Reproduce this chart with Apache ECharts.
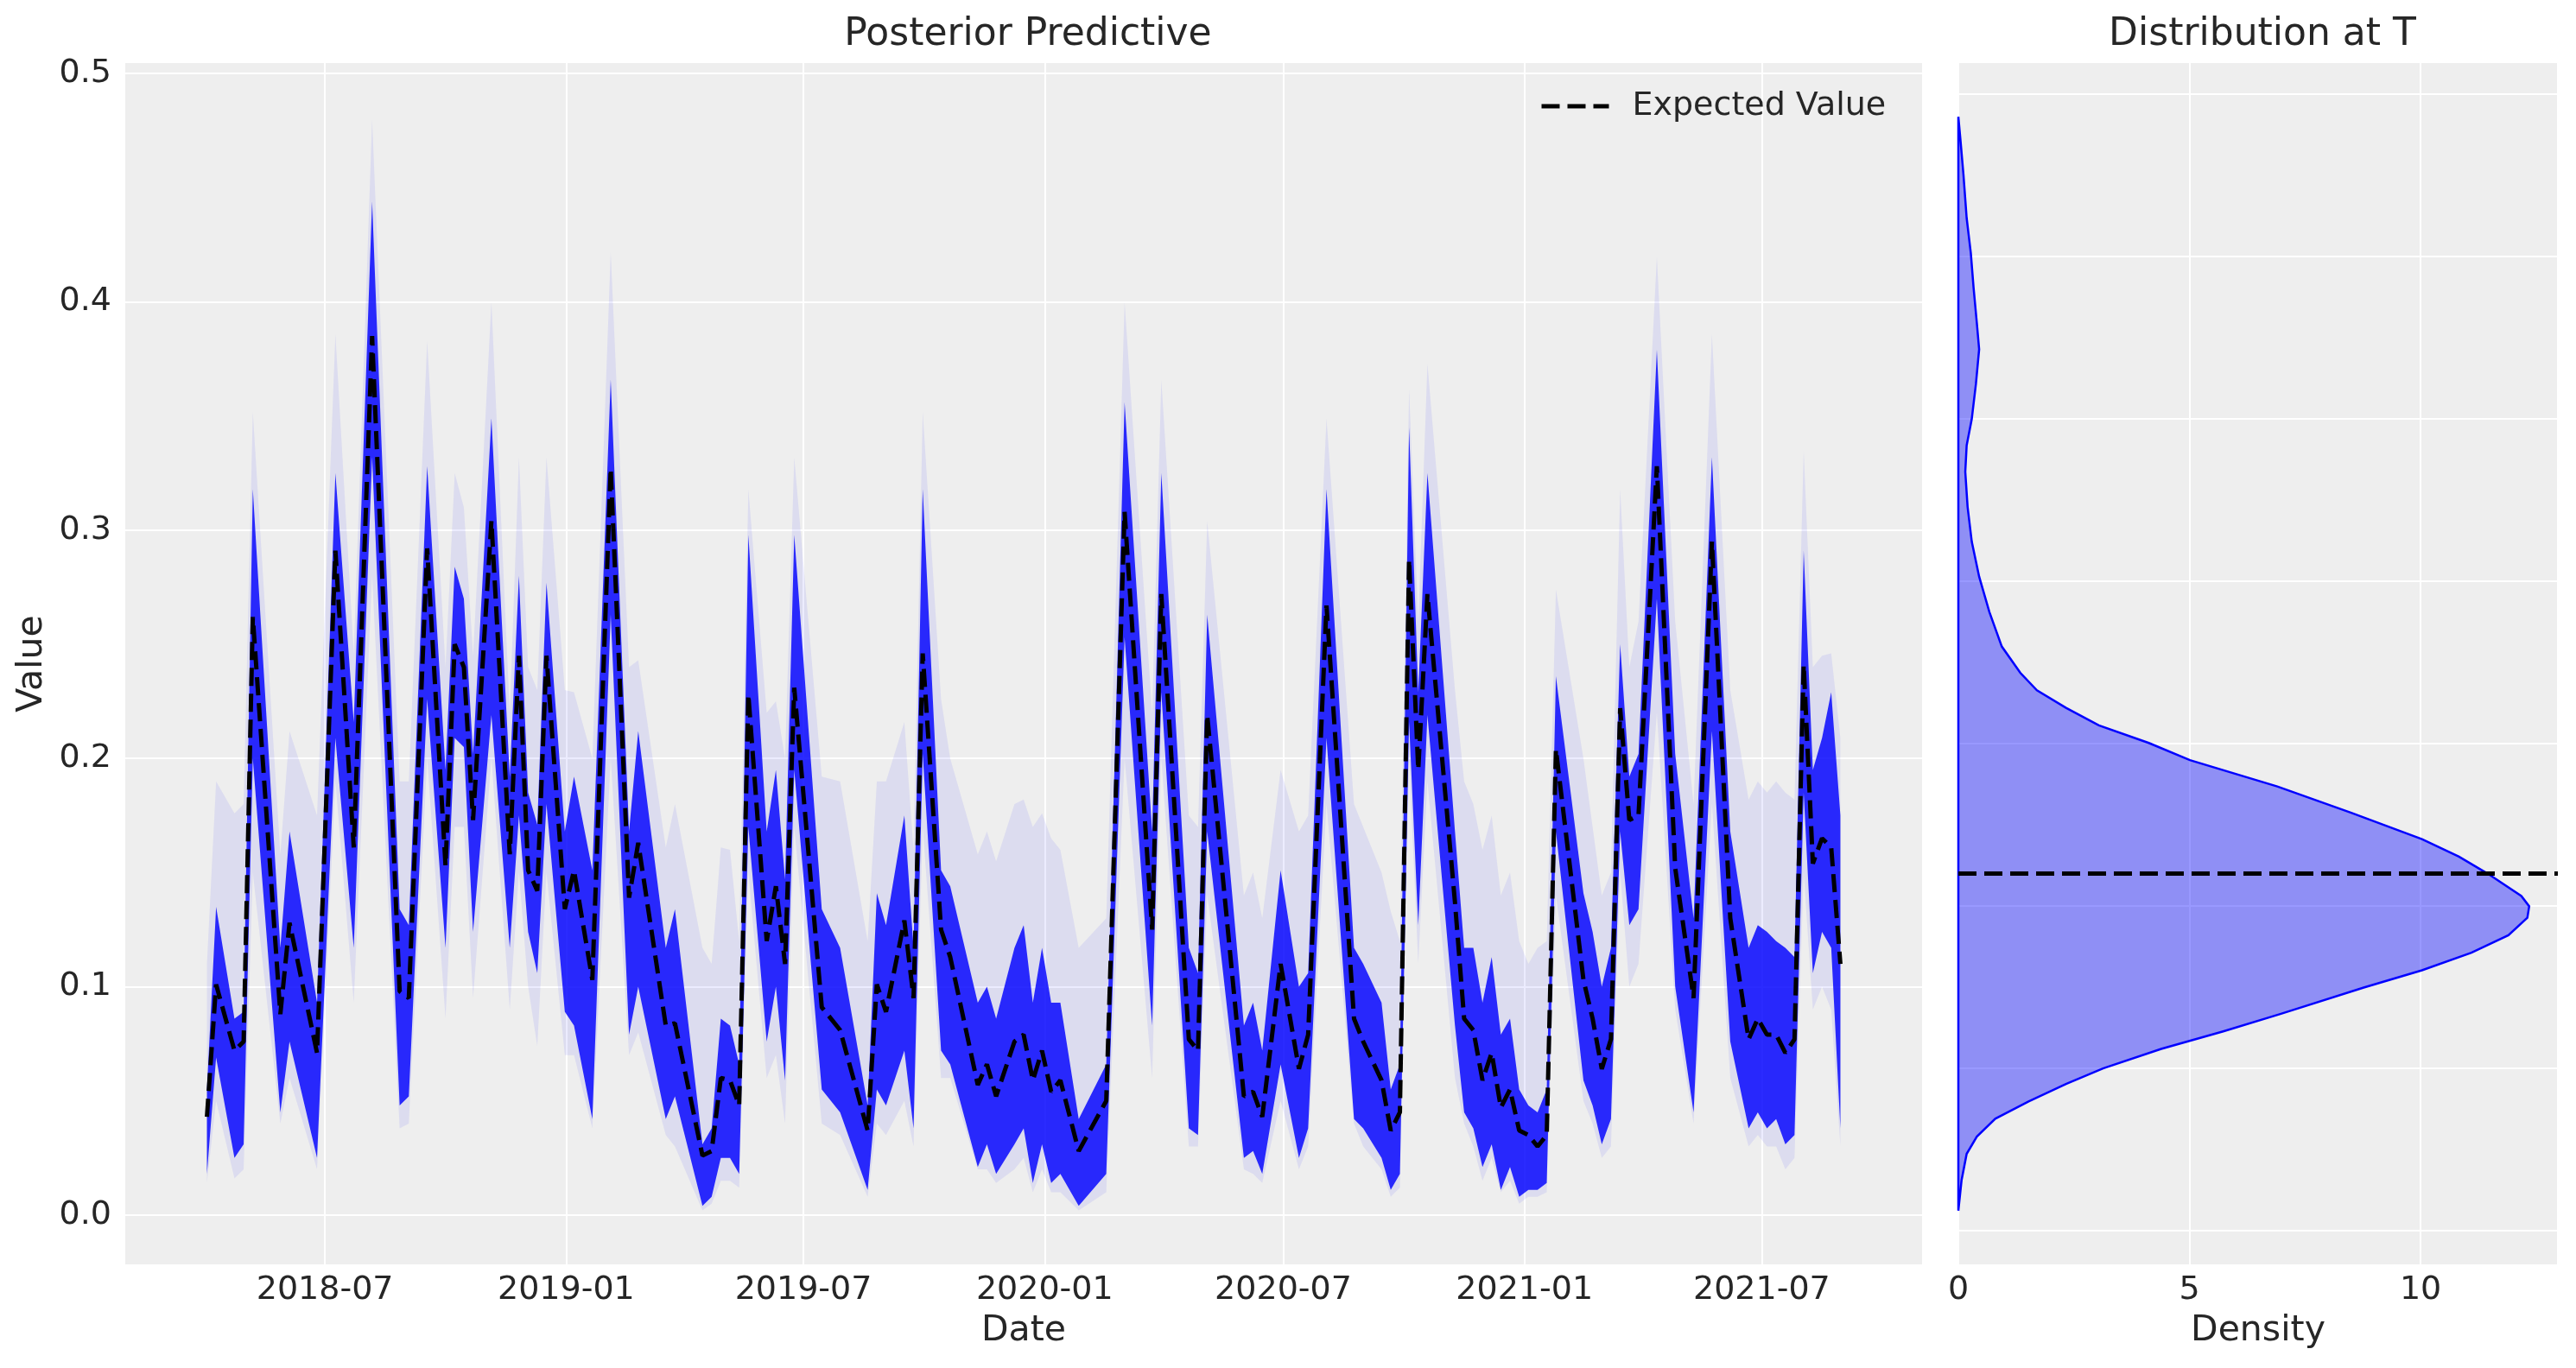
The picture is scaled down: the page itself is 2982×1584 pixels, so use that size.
<!DOCTYPE html>
<html>
<head>
<meta charset="utf-8">
<title>Posterior Predictive</title>
<script src="https://cdn.jsdelivr.net/npm/echarts@6/dist/echarts.min.js"></script>
<style>
    html, body { margin: 0; padding: 0; background: #fff; }
    #main { width: 2982px; height: 1584px; }
</style>
</head>
<body>
<div id="main"></div>
<script type="text/javascript">
    // weekly points where the curves change direction
    var dates = [
        '2018-04-02','2018-04-09','2018-04-23','2018-04-30','2018-05-07','2018-05-28','2018-06-04','2018-06-25','2018-07-09','2018-07-23',
        '2018-08-06','2018-08-27','2018-09-03','2018-09-17','2018-10-01','2018-10-08','2018-10-15','2018-10-22','2018-11-05','2018-11-19',
        '2018-11-26','2018-12-03','2018-12-10','2018-12-17','2018-12-31',
        '2019-01-07','2019-01-21','2019-02-04','2019-02-18','2019-02-25','2019-03-18','2019-03-25','2019-04-15','2019-04-22','2019-04-29',
        '2019-05-06','2019-05-13','2019-05-20','2019-06-03','2019-06-10','2019-06-17','2019-06-24','2019-07-15','2019-07-29','2019-08-19',
        '2019-08-26','2019-09-02','2019-09-16','2019-09-23','2019-09-30','2019-10-14','2019-10-21','2019-11-11','2019-11-18','2019-11-25',
        '2019-12-09','2019-12-16','2019-12-23','2019-12-30',
        '2020-01-06','2020-01-13','2020-01-27','2020-02-17','2020-03-02','2020-03-23','2020-03-30','2020-04-20','2020-04-27','2020-05-04',
        '2020-06-01','2020-06-08','2020-06-15','2020-06-29','2020-07-13','2020-07-20','2020-08-03','2020-08-24','2020-08-31','2020-09-14',
        '2020-09-21','2020-09-28','2020-10-05','2020-10-12','2020-10-19','2020-11-09','2020-11-16','2020-11-23','2020-11-30','2020-12-07',
        '2020-12-14','2020-12-21','2020-12-28',
        '2021-01-04','2021-01-11','2021-01-18','2021-01-25','2021-02-15','2021-02-22','2021-03-01','2021-03-08','2021-03-15','2021-03-22',
        '2021-03-29','2021-04-12','2021-04-26','2021-05-10','2021-05-24','2021-06-07','2021-06-21','2021-06-28','2021-07-05','2021-07-12',
        '2021-07-19','2021-07-26','2021-08-02','2021-08-09','2021-08-16','2021-08-23','2021-08-30'
    ];
    var expected = [
        .043,.101,.072,.076,.262,.088,.128,.071,.291,.161,.385,.098,.095,.292,.153,.25,.24,.173,.304,.158,.245,.151,.142,.245,.134,
        .151,.103,.327,.139,.163,.083,.084,.026,.028,.06,.059,.048,.228,.12,.144,.11,.231,.091,.081,.037,.101,.089,.129,.095,.246,.125,.113,.057,.066,.052,.076,.079,.059,.072,
        .054,.059,.028,.05,.308,.125,.272,.077,.072,.219,.052,.054,.043,.11,.064,.079,.267,.086,.076,.059,.037,.045,.287,.195,.272,.137,.086,.081,.059,.071,.047,.055,.037,
        .035,.03,.035,.204,.103,.086,.064,.077,.222,.173,.175,.328,.152,.095,.295,.13,.077,.086,.079,.079,.071,.077,.241,.154,.165,.161,.11
    ];
    // dense part of the posterior samples
    var bandLow = [
        .018,.069,.025,.031,.2,.045,.076,.025,.209,.117,.332,.048,.052,.226,.117,.209,.205,.124,.219,.117,.175,.124,.106,.18,.089,
        .083,.042,.263,.079,.1,.042,.052,.004,.008,.025,.025,.018,.17,.076,.1,.059,.195,.055,.045,.011,.055,.048,.072,.038,.202,.072,.066,.021,.031,.018,.031,.038,.014,.031,
        .014,.018,.004,.018,.253,.083,.229,.038,.035,.168,.025,.028,.018,.066,.025,.038,.209,.042,.038,.025,.011,.018,.216,.127,.219,.083,.045,.038,.021,.031,.011,.021,.008,
        .011,.011,.014,.168,.059,.048,.031,.042,.168,.127,.134,.27,.1,.045,.212,.076,.038,.045,.038,.042,.031,.035,.185,.106,.124,.117,.038
    ];
    var bandHigh = [
        .055,.135,.086,.089,.318,.117,.168,.093,.325,.216,.444,.134,.127,.328,.195,.284,.27,.202,.349,.192,.28,.185,.171,.277,.168,
        .192,.151,.366,.168,.212,.117,.134,.031,.038,.086,.083,.066,.298,.168,.195,.147,.298,.134,.117,.048,.141,.127,.175,.117,.318,.151,.144,.093,.1,.086,.117,.127,.093,.117,
        .093,.093,.042,.066,.356,.168,.325,.117,.106,.263,.083,.093,.072,.151,.1,.106,.318,.117,.11,.093,.055,.066,.345,.229,.325,.168,.117,.117,.093,.113,.079,.086,.055,
        .048,.045,.055,.236,.141,.124,.1,.117,.25,.192,.202,.379,.202,.13,.332,.168,.117,.127,.124,.12,.117,.113,.291,.195,.209,.229,.175
    ];
    // faint outer spread of the samples
    var faintLow = [
        .014,.05,.016,.02,.15,.04,.06,.02,.19,.093,.28,.038,.04,.2,.086,.17,.17,.095,.2,.09,.15,.1,.074,.15,.07,
        .07,.038,.2,.07,.08,.035,.03,.002,.005,.015,.015,.012,.15,.06,.07,.04,.17,.04,.035,.008,.04,.035,.05,.03,.17,.06,.06,.02,.02,.014,.02,.025,.01,.02,
        .01,.01,.002,.01,.2,.06,.2,.03,.03,.14,.02,.018,.014,.05,.02,.03,.18,.04,.03,.02,.008,.012,.2,.11,.19,.06,.04,.03,.015,.025,.01,.015,.005,
        .008,.008,.01,.14,.05,.04,.025,.03,.15,.1,.11,.22,.09,.04,.18,.06,.03,.035,.03,.03,.02,.025,.15,.09,.1,.09,.03
    ];
    var faintHigh = [
        .11,.19,.176,.18,.352,.158,.212,.175,.386,.246,.48,.19,.19,.383,.24,.325,.31,.245,.40,.22,.332,.24,.23,.332,.23,
        .229,.2,.422,.24,.243,.161,.18,.117,.11,.161,.16,.12,.318,.22,.225,.2,.332,.192,.19,.12,.19,.19,.216,.16,.352,.226,.2,.158,.168,.155,.18,.182,.17,.176,
        .165,.16,.117,.13,.40,.22,.366,.175,.17,.304,.14,.15,.13,.195,.168,.175,.349,.18,.17,.15,.133,.12,.362,.26,.373,.23,.19,.18,.16,.175,.14,.15,.12,
        .11,.117,.12,.274,.2,.17,.14,.15,.318,.24,.26,.42,.26,.18,.386,.23,.182,.19,.185,.19,.185,.182,.335,.24,.245,.246,.209
    ];
    var dateTicks = ['2018-07-01','2019-01-01','2019-07-01','2020-01-01','2020-07-01','2021-01-01','2021-07-01'];

    // distribution at the last time point (value -> density)
    var densityValue = [0.0062,0.0156,0.0237,0.029,0.0345,0.0398,0.0452,0.05,0.056,0.0614,0.0668,0.0749,0.0802,0.0856,0.091,0.0964,
        0.0999,0.1031,0.1099,0.1152,0.1206,0.1287,0.1368,0.1449,0.1502,0.1556,0.161,0.1664,0.1718,0.1799,0.1906,0.2014,0.2122,
        0.2229,0.2337,0.2418,0.2499,0.2607,0.2714,0.2795,0.2903,0.301,0.3118,0.3253,0.336,0.343];
    var densityHeight = [0,0.07,0.18,0.4,0.8,1.52,2.33,3.13,4.39,5.73,6.98,8.77,10.03,11.1,11.9,12.31,
        12.35,12.18,11.46,10.83,10.03,8.5,6.9,5.01,4.12,3.04,2.33,1.7,1.34,0.94,0.67,0.45,0.29,
        0.2,0.15,0.18,0.29,0.38,0.45,0.4,0.33,0.27,0.18,0.11,0.045,0];
    var valueAtT = expected[expected.length - 1];

    function toTime(s) {
        var p = s.split('-');
        return new Date(+p[0], +p[1] - 1, +p[2]).getTime();
    }
    var t0 = toTime(dates[0]), t1 = toTime(dates[dates.length - 1]);
    var pad = (t1 - t0) * 0.05;

    function pairs(arr) {
        return dates.map(function (d, i) { return [toTime(d), arr[i]]; });
    }
    function diff(hi, lo) {
        return dates.map(function (d, i) { return [toTime(d), +(hi[i] - lo[i]).toFixed(4)]; });
    }

    var FONT = 'DejaVu Sans';
    var TXT = '#262626';

    var chart = echarts.init(document.getElementById('main'));
    chart.setOption({
        animation: false,
        backgroundColor: '#ffffff',
        textStyle: { fontFamily: FONT },
        title: [
            { text: 'Posterior Predictive', left: 1185, top: 14, textAlign: 'center',
              textStyle: { fontFamily: FONT, fontSize: 44, fontWeight: 'normal', color: TXT } },
            { text: 'Distribution at T', left: 2614, top: 14, textAlign: 'center',
              textStyle: { fontFamily: FONT, fontSize: 44, fontWeight: 'normal', color: TXT } }
        ],
        legend: {
            data: ['Expected Value'],
            left: 1782, top: 104, padding: 0,
            itemWidth: 78, itemHeight: 20,
            itemStyle: { opacity: 0 },
            lineStyle: { color: '#000000', width: 5, type: [21, 9] },
            textStyle: { fontFamily: FONT, fontSize: 38, color: TXT, padding: [0, 0, 0, 22] }
        },
        grid: [
            { left: 145, right: 757, top: 72, bottom: 119, backgroundColor: '#eeeeee', show: true, borderWidth: 0 },
            { left: 2267, right: 21, top: 72, bottom: 119, backgroundColor: '#eeeeee', show: true, borderWidth: 0 }
        ],
        xAxis: [
            {
                type: 'time', gridIndex: 0, min: t0 - pad, max: t1 + pad,
                name: 'Date', nameLocation: 'middle', nameGap: 56,
                nameTextStyle: { fontFamily: FONT, fontSize: 41, color: TXT },
                axisLine: { show: false }, axisTick: { show: false },
                splitLine: { show: false },
                axisLabel: {
                    customValues: dateTicks.map(toTime),
                    formatter: '{yyyy}-{MM}',
                    fontFamily: FONT, fontSize: 38, color: TXT, margin: 10
                }
            },
            {
                type: 'value', gridIndex: 1, min: 0, max: 12.97, interval: 5,
                name: 'Density', nameLocation: 'middle', nameGap: 56,
                nameTextStyle: { fontFamily: FONT, fontSize: 41, color: TXT },
                axisLine: { show: false }, axisTick: { show: false },
                splitLine: { show: true, lineStyle: { color: '#ffffff', width: 2 } },
                axisLabel: { fontFamily: FONT, fontSize: 38, color: TXT, margin: 10, showMaxLabel: false }
            }
        ],
        yAxis: [
            {
                type: 'value', gridIndex: 0, min: -0.022, max: 0.505, splitNumber: 5,
                name: 'Value', nameLocation: 'middle', nameGap: 84,
                nameTextStyle: { fontFamily: FONT, fontSize: 41, color: TXT },
                axisLine: { show: false }, axisTick: { show: false },
                splitLine: { show: true, lineStyle: { color: '#ffffff', width: 2 } },
                axisLabel: {
                    fontFamily: FONT, fontSize: 38, color: TXT, margin: 16,
                    showMinLabel: false, showMaxLabel: false,
                    formatter: function (v) { return v.toFixed(1); }
                }
            },
            {
                type: 'value', gridIndex: 1, min: -0.0106, max: 0.3598, splitNumber: 7,
                axisLine: { show: false }, axisTick: { show: false },
                axisLabel: { show: false },
                splitLine: { show: true, lineStyle: { color: '#ffffff', width: 2 } }
            }
        ],
        series: [
            // vertical grid lines at the date ticks
            {
                type: 'line', xAxisIndex: 0, yAxisIndex: 0, data: [], z: 1, silent: true,
                markLine: {
                    z: 1, symbol: 'none', silent: true, label: { show: false },
                    lineStyle: { color: '#ffffff', width: 2, type: 'solid' },
                    data: dateTicks.map(function (d) { return { xAxis: toTime(d) }; })
                }
            },
            {
                type: 'line', xAxisIndex: 0, yAxisIndex: 0, stack: 'faint', z: 2,
                data: pairs(faintLow), symbol: 'none', lineStyle: { opacity: 0 }, silent: true
            },
            {
                type: 'line', xAxisIndex: 0, yAxisIndex: 0, stack: 'faint', z: 2,
                data: diff(faintHigh, faintLow), symbol: 'none', lineStyle: { opacity: 0 }, silent: true,
                areaStyle: { color: 'rgba(0,0,255,0.075)', opacity: 1 }
            },
            {
                type: 'line', xAxisIndex: 0, yAxisIndex: 0, stack: 'dense', z: 3,
                data: pairs(bandLow), symbol: 'none', lineStyle: { opacity: 0 }, silent: true
            },
            {
                type: 'line', xAxisIndex: 0, yAxisIndex: 0, stack: 'dense', z: 3,
                data: diff(bandHigh, bandLow), symbol: 'none', lineStyle: { opacity: 0 }, silent: true,
                areaStyle: { color: 'rgba(0,0,255,0.82)', opacity: 1 }
            },
            {
                name: 'Expected Value', type: 'line', xAxisIndex: 0, yAxisIndex: 0, z: 5,
                data: pairs(expected), symbol: 'none',
                lineStyle: { color: '#000000', width: 5, type: [21, 9] },
                itemStyle: { color: '#000000' }
            },
            // density at T
            {
                type: 'custom', xAxisIndex: 1, yAxisIndex: 1, data: [0], z: 2, silent: true,
                renderItem: function (params, api) {
                    var pts = densityValue.map(function (y, i) { return api.coord([densityHeight[i], y]); });
                    return {
                        type: 'polygon',
                        shape: { points: pts },
                        style: { fill: 'rgba(0,0,255,0.4)', stroke: '#0000ff', lineWidth: 2.5 }
                    };
                }
            },
            {
                type: 'line', xAxisIndex: 1, yAxisIndex: 1, data: [], z: 4, silent: true,
                markLine: {
                    z: 4, symbol: 'none', silent: true, label: { show: false },
                    lineStyle: { color: '#000000', width: 5, type: [21, 9] },
                    data: [{ yAxis: valueAtT }]
                }
            }
        ]
    });
</script>
</body>
</html>
